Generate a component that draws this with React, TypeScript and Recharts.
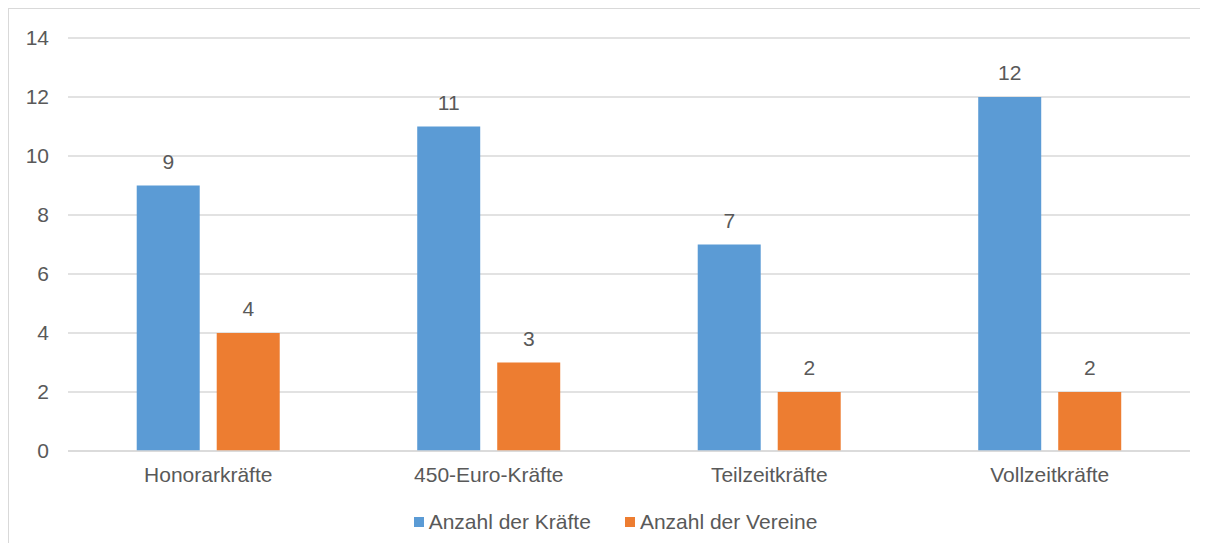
import { BarChart, Bar, XAxis, YAxis, CartesianGrid, Legend, LabelList } from 'recharts';

const categories = ['Honorarkräfte', '450-Euro-Kräfte', 'Teilzeitkräfte', 'Vollzeitkräfte'];
const kraefte = [9, 11, 7, 12];
const vereine = [4, 3, 2, 2];
const yTicks = [0, 2, 4, 6, 8, 10, 12, 14];

const series = [
  { key: 'kraefte', name: 'Anzahl der Kräfte', color: '#5b9bd5' },
  { key: 'vereine', name: 'Anzahl der Vereine', color: '#ed7d31' },
];

const data = categories.map((c, i) => ({ cat: c, kraefte: kraefte[i], vereine: vereine[i] }));

const FONT = '"Liberation Sans", Arial, sans-serif';
const TEXT = '#595959';

function LegendBox() {
  return (
    <div style={{ display: 'flex', justifyContent: 'center', gap: 34, marginTop: 9, paddingLeft: 32,
      fontFamily: FONT, fontSize: 21, color: TEXT }}>
      {series.map(s => (
        <span key={s.key} style={{ display: 'flex', alignItems: 'center' }}>
          <span style={{ width: 10, height: 10, background: s.color, marginRight: 5, display: 'inline-block' }} />
          {s.name}
        </span>
      ))}
    </div>
  );
}

export default function App() {
  // outer box clips the frame so the page never scrolls
  return (
    <div style={{ width: 1200, height: 535, overflow: 'hidden' }}>
      <div style={{ width: 1210, height: 552, border: '1px solid #d9d9d9', boxSizing: 'border-box', background: '#fff' }}>
        <BarChart width={1199} height={542} data={data} margin={{ top: 29, right: 18, left: 0, bottom: 10 }}
          barGap={17} barCategoryGap="24.5%" style={{ fontFamily: FONT }}>
          <CartesianGrid vertical={false} stroke="#d9d9d9" strokeWidth={1.5} />
          <XAxis dataKey="cat" axisLine={{ stroke: '#d9d9d9', strokeWidth: 1.5 }} tickLine={false}
            tick={{ fill: TEXT, fontSize: 21 }} tickMargin={10} height={50} />
          <YAxis domain={[0, 14]} ticks={yTicks} width={59} axisLine={false} tickLine={false} tickSize={0}
            tickMargin={19} tick={{ fill: TEXT, fontSize: 21 }} />
          <Legend verticalAlign="bottom" height={40} content={() => <LegendBox />} />
          {series.map(s => (
            <Bar key={s.key} dataKey={s.key} name={s.name} fill={s.color} isAnimationActive={false}>
              <LabelList dataKey={s.key} position="top" offset={17} fill={TEXT} fontSize={21} fontFamily={FONT} />
            </Bar>
          ))}
        </BarChart>
      </div>
    </div>
  );
}
